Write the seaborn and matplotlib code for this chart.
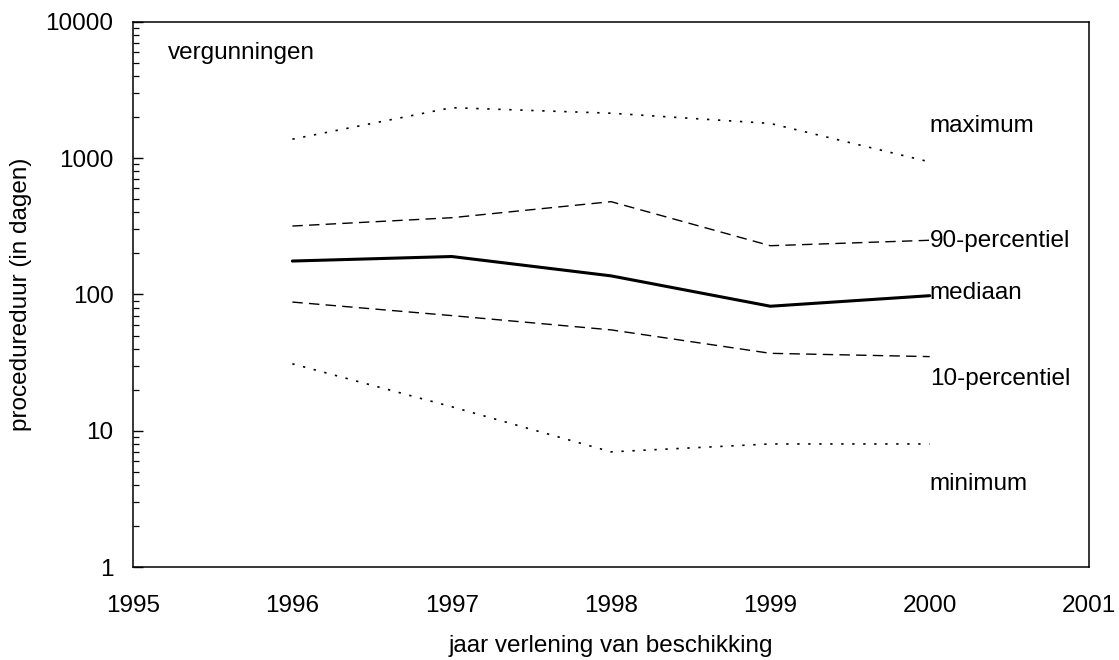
import matplotlib
matplotlib.use("Agg")
import matplotlib.pyplot as plt
from matplotlib.ticker import LogLocator, FuncFormatter, NullFormatter
import seaborn as sns
import pandas as pd

# Procedure duration (days) per year of permit extension
years = [1996, 1997, 1998, 1999, 2000]
maximum = [1380, 2350, 2140, 1800, 940]
p90 = [318, 366, 480, 228, 250]
mediaan = [176, 190, 137, 82, 98]
p10 = [88, 70, 55, 37, 35]
minimum = [31, 15, 7, 8, 8]

series_names = ["maximum", "90-percentiel", "mediaan", "10-percentiel", "minimum"]
series_values = [maximum, p90, mediaan, p10, minimum]
label_y = [1720, 245, 103, 24, 4.05]

sns.set_style("white")
plt.rcParams["font.family"] = ["Liberation Sans", "DejaVu Sans"]
plt.rcParams.update({
    "text.color": "black",
    "axes.labelcolor": "black",
    "xtick.color": "black",
    "ytick.color": "black",
})

df = pd.concat(
    [pd.DataFrame({"jaar": years, "dagen": v, "reeks": n})
     for n, v in zip(series_names, series_values)],
    ignore_index=True,
)

fig = plt.figure(figsize=(11.19, 6.6), dpi=100)
ax = fig.add_axes([0.1189, 0.1409, 0.8543, 0.8258])

dotted = (0, (1.4, 5.2))
dashed = (0, (7.5, 4.5))
styles = {
    "maximum": dict(ls=dotted, lw=1.2),
    "90-percentiel": dict(ls=dashed, lw=1.0),
    "mediaan": dict(ls="-", lw=2.2),
    "10-percentiel": dict(ls=dashed, lw=1.0),
    "minimum": dict(ls=dotted, lw=1.2),
}

for name in series_names:
    sub = df[df["reeks"] == name]
    st = styles[name]
    sns.lineplot(data=sub, x="jaar", y="dagen", ax=ax, color="black",
                 linewidth=st["lw"], linestyle=st["ls"], legend=False)

ax.set_yscale("log")
ax.set_ylim(1, 10000)
ax.set_xlim(1995, 2001)
ax.set_xticks(range(1995, 2002))
ax.yaxis.set_major_locator(LogLocator(base=10, numticks=10))
ax.yaxis.set_minor_locator(LogLocator(base=10, subs=range(2, 10), numticks=20))
ax.yaxis.set_major_formatter(FuncFormatter(lambda v, p: f"{int(round(v))}"))
ax.yaxis.set_minor_formatter(NullFormatter())

fs = 17.5
ax.tick_params(axis="y", which="major", direction="in", length=7, width=1.0,
               labelsize=fs, pad=14, left=True, color="black")
ax.tick_params(axis="y", which="minor", direction="in", length=4, width=0.9,
               left=True, color="black")
ax.tick_params(axis="x", which="both", length=0, labelsize=fs, pad=20)

for sp in ax.spines.values():
    sp.set_color("black")
    sp.set_linewidth(1.1)

ax.set_xlabel("jaar verlening van beschikking", fontsize=fs, labelpad=13)
ax.set_ylabel("procedureduur (in dagen)", fontsize=fs, labelpad=10)

for name, yv in zip(series_names, label_y):
    ax.text(2000, yv, name, fontsize=fs, ha="left", va="center")

ax.text(1995.22, 5900, "vergunningen", fontsize=fs, ha="left", va="center")

fig.savefig("out.png", dpi=100)
